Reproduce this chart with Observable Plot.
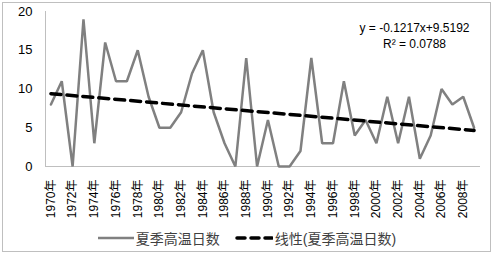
<!DOCTYPE html>
<html>
<head>
<meta charset="utf-8">
<script src="https://cdn.jsdelivr.net/npm/d3@7"></script>
<script src="https://cdn.jsdelivr.net/npm/@observablehq/plot@0.6"></script>
<style>
  html, body { margin: 0; padding: 0; background: #fff; }
  #page { position: relative; width: 494px; height: 255px; overflow: hidden;
          font-family: "Liberation Sans", Arial, "Noto Sans CJK SC", sans-serif; }
  #border { position: absolute; left: 2px; top: 2px; width: 489px; height: 250px;
            border: 1px solid #bfbfbf; box-sizing: border-box; pointer-events: none; }
  #chart { position: absolute; left: 0; top: 0; }
  #legend { position: absolute; left: 0; top: 229px; width: 494px; height: 18px;
            display: flex; justify-content: center; align-items: center;
            font-size: 14px; color: #404040;
            font-family: "Liberation Sans", Arial, "Noto Sans CJK SC", sans-serif; }
  #legend .item { display: flex; align-items: center; }
  #legend svg { display: block; }
</style>
</head>
<body>
<div id="page">
  <div id="chart"></div>
  <div id="legend"></div>
  <div id="border"></div>
</div>
<script>
// ---- data ----
const years = d3.range(1970, 2010);
const hotDays = [8, 11, 0, 19, 3, 16, 11, 11, 15, 9,
                 5, 5, 7, 12, 15, 7, 3, 0, 14, 0,
                 6, 0, 0, 2, 14, 3, 3, 11, 4, 6,
                 3, 9, 3, 9, 1, 4, 10, 8, 9, 5];
const yTicks = [0, 5, 10, 15, 20];
const xTickYears = years.filter(y => y % 2 === 0);
const seriesName = "夏季高温日数";
const trendName = "线性(夏季高温日数)";
const slope = -0.1217;
const intercept = 9.5192;
const rSquared = "0.0788";
const equationText = `y = ${slope}x+${intercept}\nR² = ${rSquared}`;

const rows = years.map((yr, i) => ({year: yr, value: hotDays[i]}));
const trendRows = [
  {year: years[0], value: intercept + slope * 1},
  {year: years[years.length - 1], value: intercept + slope * years.length}
];

const lineColor = "#808080";
const dash = "10,6";

const chart = Plot.plot({
  width: 494,
  height: 230,
  marginTop: 11,
  marginBottom: 64,
  marginLeft: 45,
  marginRight: 15,
  style: {fontFamily: '"Liberation Sans", Arial, "Noto Sans CJK SC", sans-serif', fontSize: "12px", color: "#000", background: "transparent"},
  x: {type: "point", domain: years, padding: 0.5, label: null},
  y: {domain: [0, 20], label: null},
  marks: [
    Plot.frame({anchor: "left", stroke: "#bfbfbf"}),
    Plot.frame({anchor: "bottom", stroke: "#bfbfbf"}),
    Plot.axisY({ticks: yTicks, tickSize: 0, tickPadding: 13, fontSize: 13, label: null}),
    Plot.axisX({ticks: xTickYears, tickSize: 0, tickPadding: 13, tickRotate: -90,
                tickFormat: d => d + "年", fontSize: 12, label: null}),
    Plot.line(rows, {x: "year", y: "value", stroke: lineColor, strokeWidth: 2.5, strokeLinejoin: "miter"}),
    Plot.line(trendRows, {x: "year", y: "value", stroke: "#000", strokeWidth: 3.5,
                          strokeDasharray: dash, strokeLinecap: "round"}),
    Plot.text([equationText], {frameAnchor: "top-right", dx: -65, dy: 9, textAnchor: "middle",
                               lineAnchor: "top", lineHeight: 1.35, fontSize: 12, fill: "#000"})
  ]
});
document.getElementById("chart").appendChild(chart);

// ---- legend ----
const legend = document.getElementById("legend");
function item(swatchSvg, label, gapAfter) {
  const d = document.createElement("div");
  d.className = "item";
  d.style.marginRight = gapAfter + "px";
  d.innerHTML = swatchSvg + `<span style="margin-left:2px">${label}</span>`;
  legend.appendChild(d);
}
item(`<svg width="36" height="8"><line x1="0" y1="4" x2="36" y2="4" stroke="${lineColor}" stroke-width="2.5"/></svg>`, seriesName, 15);
item(`<svg width="38" height="8"><line x1="2" y1="4" x2="37" y2="4" stroke="#000" stroke-width="3.5" stroke-linecap="round" stroke-dasharray="8,6"/></svg>`, trendName, 0);
</script>
</body>
</html>
